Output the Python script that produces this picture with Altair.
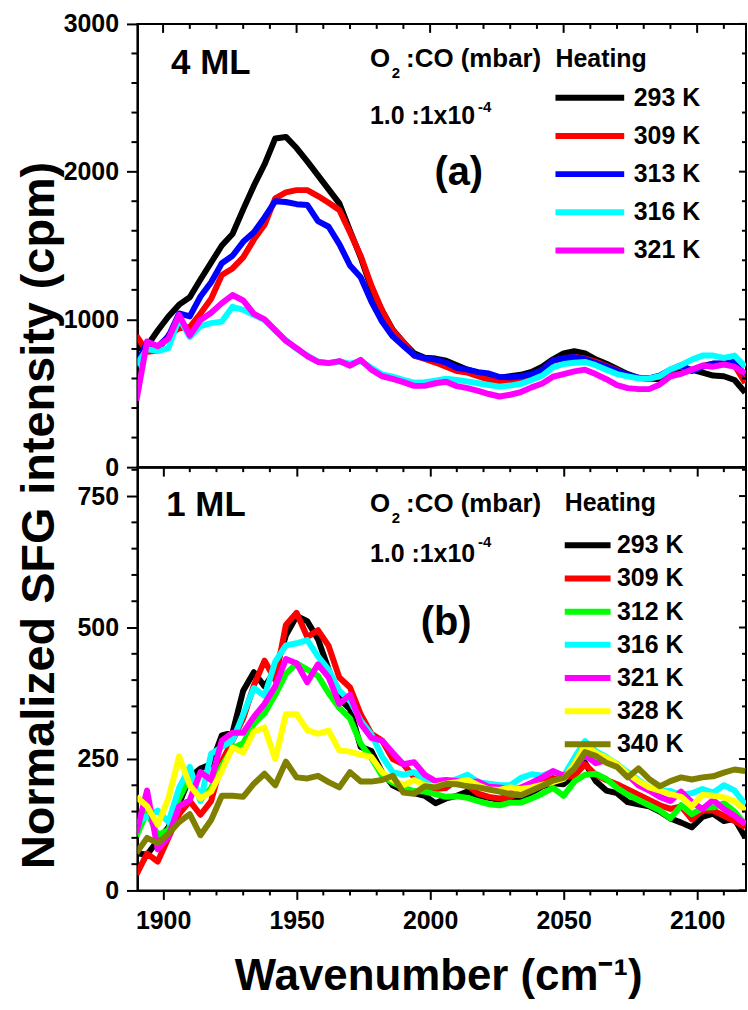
import altair as alt
import pandas as pd

FONT = "Liberation Sans"

# ---------------- data ----------------
wavenumber = [1890, 1894, 1898, 1902, 1906, 1910, 1914, 1918, 1922, 1926,
              1930, 1934, 1938, 1942, 1946, 1950, 1954, 1958, 1962, 1966,
              1970, 1974, 1978, 1982, 1986, 1990, 1994, 1998, 2002, 2006,
              2010, 2014, 2018, 2022, 2026, 2030, 2034, 2038, 2042, 2046,
              2050, 2054, 2058, 2062, 2066, 2070, 2074, 2078, 2082, 2086,
              2090, 2094, 2098, 2102, 2106, 2110, 2114, 2118]

# (a) 4 ML
top_labels = ["293 K", "309 K", "313 K", "316 K", "321 K"]
top_colors = ["#000000", "#ff0000", "#0000ff", "#00ffff", "#ff00ff"]
top_293 = [800, 820, 925, 1020, 1100, 1150, 1270, 1385, 1500, 1578,
           1745, 1905, 2050, 2225, 2235, 2160, 2070, 1975, 1880, 1785,
           1600, 1420, 1210, 1060, 930, 845, 770, 740, 735, 720,
           690, 660, 640, 620, 605, 615, 625, 645, 680, 730,
           770, 785, 770, 730, 700, 665, 630, 605, 600, 595,
           630, 665, 660, 640, 620, 615, 590, 505]
top_309 = [890, 780, 790, 892, 940, 948, 1040, 1140, 1300, 1345,
           1420, 1540, 1640, 1820, 1860, 1875, 1875, 1835, 1790, 1740,
           1589, 1430, 1230, 1060, 925, 847, 755, 732, 708, 680,
           650, 640, 615, 590, 578, 585, 600, 622, 656, 720,
           735, 745, 735, 715, 685, 655, 622, 603, 600, 615,
           655, 685, 655, 685, 700, 700, 690, 570]
top_313 = [690, 845, 815, 885, 1040, 1020, 1155, 1252, 1380, 1431,
           1525, 1590, 1690, 1800, 1795, 1780, 1775, 1665, 1627, 1510,
           1365, 1285, 1120, 985, 885, 820, 757, 738, 728, 708,
           672, 660, 643, 634, 610, 608, 615, 630, 656, 723,
           737, 745, 730, 705, 680, 650, 625, 605, 600, 620,
           660, 690, 650, 680, 701, 701, 713, 622]
top_316 = [690, 800, 785, 805, 1010, 880, 955, 975, 985, 1085,
           1065, 1030, 995, 925, 858, 800, 755, 715, 705, 715,
           700, 718, 672, 628, 612, 590, 572, 575, 585, 598,
           590, 580, 568, 556, 545, 552, 564, 590, 620, 675,
           698, 706, 712, 690, 660, 630, 614, 600, 600, 615,
           662, 690, 728, 755, 755, 740, 755, 680]
top_321 = [450, 850, 818, 870, 1030, 890, 995, 1045, 1110, 1165,
           1128, 1038, 1000, 928, 855, 805, 752, 712, 704, 718,
           687, 726, 660, 615, 598, 575, 550, 550, 568, 578,
           548, 535, 516, 495, 478, 490, 508, 540, 566, 612,
           630, 648, 660, 630, 595, 555, 535, 528, 528, 560,
           615, 632, 660, 688, 680, 695, 680, 634]

# (b) 1 ML
bot_labels = ["293 K", "309 K", "312 K", "316 K", "321 K", "328 K", "340 K"]
bot_colors = ["#000000", "#ff0000", "#00ff00", "#00ffff", "#ff00ff", "#ffff00", "#808000"]
bot_293 = [71, 68, 95, 120, 165, 215, 232, 240, 295, 300,
           380, 415, 388, 418, 485, 522, 512, 478, 420, 365,
           345, 273, 265, 225, 200, 190, 185, 180, 166, 175,
           180, 188, 180, 176, 172, 170, 176, 186, 198, 204,
           202, 220, 243, 208, 190, 185, 168, 164, 160, 150,
           137, 129, 120, 140, 146, 132, 136, 101]
bot_309 = [30, 70, 55, 100, 145, 170, 144, 170, 245, 285,
           327, 390, 437, 400, 505, 528, 482, 495, 465, 405,
           386, 335, 298, 285, 250, 240, 215, 200, 193, 195,
           210, 200, 184, 178, 175, 178, 186, 202, 210, 214,
           215, 218, 240, 220, 210, 202, 192, 182, 172, 162,
           155, 160, 135, 152, 152, 142, 132, 120]
bot_312 = [103, 150, 105, 115, 175, 215, 172, 195, 237, 270,
           280, 317, 337, 372, 412, 432, 420, 408, 375, 347,
           327, 279, 252, 218, 205, 195, 189, 188, 183, 178,
           179, 176, 170, 164, 162, 167, 167, 175, 184, 195,
           180, 207, 220, 222, 212, 195, 182, 172, 162, 152,
           137, 162, 145, 157, 158, 166, 150, 126]
bot_316 = [128, 141, 152, 130, 195, 235, 170, 260, 273, 285,
           335, 385, 370, 435, 466, 470, 476, 445, 420, 380,
           361, 323, 297, 255, 225, 220, 225, 210, 203, 204,
           212, 220, 206, 203, 200, 200, 214, 221, 218, 226,
           218, 252, 284, 265, 254, 240, 225, 210, 196, 190,
           189, 182, 185, 193, 186, 200, 190, 164]
bot_321 = [110, 190, 78, 103, 160, 172, 225, 210, 285, 300,
           300, 330, 355, 388, 440, 432, 396, 430, 405, 355,
           372, 317, 290, 285, 262, 240, 244, 220, 208, 210,
           208, 206, 207, 197, 196, 192, 196, 205, 215, 227,
           218, 232, 258, 242, 248, 240, 220, 200, 190, 178,
           170, 188, 168, 155, 172, 155, 142, 126]
bot_328 = [178, 160, 125, 175, 255, 200, 175, 188, 228, 272,
           262, 302, 310, 250, 335, 335, 305, 298, 304, 266,
           264, 258, 254, 225, 210, 200, 210, 200, 198, 203,
           206, 210, 200, 192, 191, 196, 193, 196, 201, 206,
           212, 240, 276, 262, 252, 240, 222, 208, 196, 190,
           183, 178, 160, 182, 180, 177, 170, 152]
bot_340 = [71, 100, 90, 108, 130, 145, 105, 134, 180, 180,
           178, 203, 222, 200, 245, 215, 213, 218, 206, 196,
           225, 207, 207, 210, 218, 186, 184, 198, 196, 203,
           202, 198, 196, 192, 188, 183, 181, 190, 199, 209,
           214, 232, 263, 256, 243, 235, 215, 232, 212, 198,
           208, 215, 211, 215, 217, 224, 230, 227]

# ticks
x_major = [1900, 1950, 2000, 2050, 2100]
x_minor = [1910, 1920, 1930, 1940, 1960, 1970, 1980, 1990, 2010, 2020,
           2030, 2040, 2060, 2070, 2080, 2090, 2110]
top_y_major = [0, 1000, 2000, 3000]
top_y_minor = [200, 400, 600, 800, 1200, 1400, 1600, 1800, 2200, 2400, 2600, 2800]
bot_y_major = [0, 250, 500, 750]
bot_y_minor = [50, 100, 150, 200, 300, 350, 400, 450, 550, 600, 650, 700, 800]

# annotations (data coordinates)
top_text = ["4 ML", "O", "2", ":CO (mbar)", "1.0 :1x10", "-4", "(a)"]
top_text_x = [1903.0, 1977.45, 1985.6, 1991.0, 1977.45, 2017.9, 2001.6]
top_text_y = [2735, 2760, 2670, 2760, 2375, 2435, 1993]
bot_text = ["1 ML", "O", "2", ":CO (mbar)", "1.0 :1x10", "-4", "(b)"]
bot_text_x = [1901.2, 1977.45, 1985.6, 1991.0, 1977.45, 2017.9, 1996.5]
bot_text_y = [732, 734, 709, 734, 639, 662, 508]
text_size = [35, 26, 15, 26, 25, 15, 40]

# ---------------- helpers ----------------
W = 611
XDOM = [1890.4, 2118.3]


def long_df(labels, series):
    rows = []
    for lab, vals in zip(labels, series):
        for w, v in zip(wavenumber, vals):
            rows.append({"wn": w, "value": v, "series": lab})
    return pd.DataFrame(rows)


def panel(df, labels, colors, ydom, h, ymajor, yminor, texts, legend, bottom):
    xscale = alt.Scale(domain=XDOM, nice=False, zero=False)
    yscale = alt.Scale(domain=ydom, nice=False, zero=False)
    if bottom:
        xaxis = alt.Axis(
            values=x_major, format="d", grid=False, tickSize=9, labelPadding=9,
            title="Wavenumber (cm\u207b\u00b9)", titleFontSize=44, titleFont=FONT,
            titleFontWeight="bold", titleColor="black", titleX=302, titleY=86,
            titleBaseline="middle", titleAlign="center")
    else:
        xaxis = alt.Axis(values=x_major, grid=False, tickSize=9, labels=False, title=None)
    if bottom:
        yaxis = alt.Axis(
            values=ymajor, format="d", grid=False, tickSize=11, labelPadding=8,
            title="Normalized SFG intensity (cpm)", titleFontSize=47, titleFont=FONT,
            titleFontWeight="bold", titleColor="black", titleAngle=270,
            titleX=-98, titleY=48, titleAlign="center", titleBaseline="middle")
    else:
        yaxis = alt.Axis(values=ymajor, format="d", grid=False, tickSize=11,
                         labelPadding=8, title=None)

    cscale = alt.Scale(domain=labels, range=colors)
    layers = []
    for lab in labels:
        layers.append(
            alt.Chart(df).transform_filter(alt.datum.series == lab)
            .mark_line(strokeWidth=6, clip=True, strokeJoin="round")
            .encode(
                x=alt.X("wn:Q", scale=xscale, axis=xaxis),
                y=alt.Y("value:Q", scale=yscale, axis=yaxis),
                color=alt.Color("series:N", scale=cscale, legend=legend),
            )
        )

    def yrule(vals, x1, x2):
        return (alt.Chart(pd.DataFrame({"v": vals}))
                .mark_rule(color="black", strokeWidth=2)
                .encode(y=alt.Y("v:Q", scale=yscale, axis=yaxis),
                        x=alt.value(x1), x2=alt.value(x2)))

    def xrule(vals, y1, y2):
        return (alt.Chart(pd.DataFrame({"t": vals}))
                .mark_rule(color="black", strokeWidth=2)
                .encode(x=alt.X("t:Q", scale=xscale, axis=xaxis),
                        y=alt.value(y1), y2=alt.value(y2)))

    # minor ticks outside (left, bottom)
    layers.append(yrule(yminor, 0, -6))
    layers.append(xrule(x_minor, h, h + 5))
    # inward ticks on the right side
    layers.append(yrule(ymajor, W, W - 7))
    layers.append(yrule(yminor, W, W - 4))
    # inward ticks along the top edge of the upper panel
    if not bottom:
        layers.append(xrule(x_major, 0, 9))
        layers.append(xrule(x_minor, 0, 5))
    layers.append(
        alt.Chart(texts).mark_text(align="left", baseline="middle", font=FONT,
                                   fontWeight="bold", color="black")
        .encode(x=alt.X("x:Q", scale=xscale, axis=xaxis),
                y=alt.Y("y:Q", scale=yscale, axis=yaxis),
                text="text:N", size=alt.Size("fs:Q", scale=None))
    )
    return alt.layer(*layers).properties(width=W, height=h)


def legend(path, lx, ly, tpad, soff, loff, rpad):
    return alt.Legend(
        orient="none", legendX=lx, legendY=ly, padding=0,
        title="Heating", titleFont=FONT, titleFontSize=25, titleFontWeight="bold",
        titleColor="black", titlePadding=tpad, titleAnchor="start",
        labelFont=FONT, labelFontSize=25, labelFontWeight="bold", labelColor="black",
        labelLimit=300, symbolType=path, symbolSize=529, symbolStrokeWidth=6,
        symbolOffset=soff, labelOffset=loff, rowPadding=rpad,
    )


top_df = long_df(top_labels, [top_293, top_309, top_313, top_316, top_321])
bot_df = long_df(bot_labels, [bot_293, bot_309, bot_312, bot_316, bot_321, bot_328, bot_340])
top_txt = pd.DataFrame({"x": top_text_x, "y": top_text_y, "text": top_text, "fs": text_size})
bot_txt = pd.DataFrame({"x": bot_text_x, "y": bot_text_y, "text": bot_text, "fs": text_size})

top = panel(top_df, top_labels, top_colors, [0, 3000], 445, top_y_major, top_y_minor, top_txt,
            legend("M-3,0H3", 419.7, 23, 11.7, 20, 29.6, 10.3), False)
bot = panel(bot_df, bot_labels, bot_colors, [0, 805], 425, bot_y_major, bot_y_minor, bot_txt,
            legend("M-2,0H2", 429, 24.5, 14.5, 8.5, 15, 5.3), True)

chart = (
    alt.vconcat(top, bot, spacing=0, bounds="flush")
    .resolve_scale(color="independent", x="independent", y="independent")
    .resolve_legend(color="independent")
    .configure(padding={"left": 14, "top": 9, "right": 0, "bottom": 5}, background="white")
    .configure_view(stroke="black", strokeWidth=2)
    .configure_axis(domainColor="black", domainWidth=2, tickColor="black", tickWidth=2,
                    labelFont=FONT, labelFontSize=25, labelFontWeight="bold",
                    labelColor="black")
)

chart.save("out.html", embed_options={"renderer": "svg", "actions": False})
